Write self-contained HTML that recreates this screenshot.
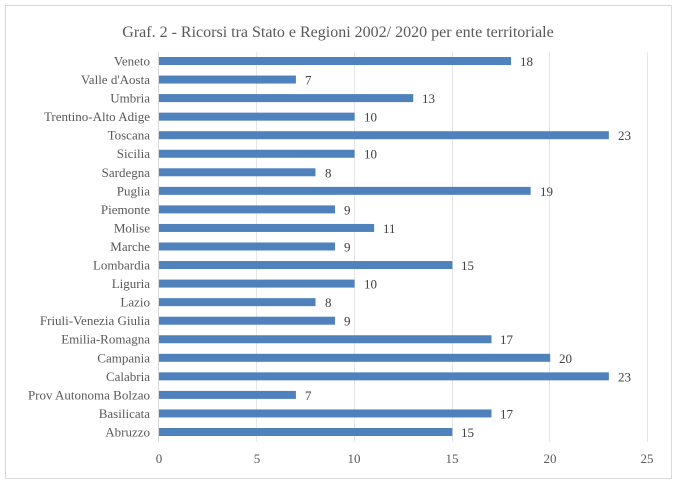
<!DOCTYPE html>
<html><head><meta charset="utf-8"><style>
body{margin:0;background:#fff;}
svg{display:block;font-family:"Liberation Serif",serif;}
</style></head><body>
<svg width="677" height="484" xmlns="http://www.w3.org/2000/svg">
<rect x="0" y="0" width="677" height="484" fill="#fff"/>
<rect x="5.5" y="5.5" width="666" height="473" fill="#fff" stroke="#d9d9d9"/>
<text x="338" y="37" text-anchor="middle" font-size="16" fill="#595959">Graf. 2 - Ricorsi tra Stato e Regioni 2002/ 2020 per ente territoriale</text>
<g stroke="#e6e6e6" stroke-width="1">
<line x1="256.5" y1="52" x2="256.5" y2="442"/>
<line x1="354.5" y1="52" x2="354.5" y2="442"/>
<line x1="452.5" y1="52" x2="452.5" y2="442"/>
<line x1="549.5" y1="52" x2="549.5" y2="442"/>
<line x1="647.5" y1="52" x2="647.5" y2="442"/>
<line x1="158.5" y1="52" x2="158.5" y2="442" stroke="#d9d9d9"/>
</g>
<g font-size="13" fill="#595959" text-anchor="middle">
<text x="159" y="463">0</text><text x="257" y="463">5</text><text x="354" y="463">10</text><text x="452" y="463">15</text><text x="550" y="463">20</text><text x="647" y="463">25</text>
</g>
<g fill="#4f81bd">
<rect x="159" y="57" width="352.08" height="8"/>
<rect x="159" y="75.55" width="136.92" height="8"/>
<rect x="159" y="94.1" width="254.28" height="8"/>
<rect x="159" y="112.65" width="195.6" height="8"/>
<rect x="159" y="131.2" width="449.88" height="8"/>
<rect x="159" y="149.75" width="195.6" height="8"/>
<rect x="159" y="168.3" width="156.48" height="8"/>
<rect x="159" y="186.85" width="371.64" height="8"/>
<rect x="159" y="205.4" width="176.04" height="8"/>
<rect x="159" y="223.95" width="215.16" height="8"/>
<rect x="159" y="242.5" width="176.04" height="8"/>
<rect x="159" y="261.05" width="293.4" height="8"/>
<rect x="159" y="279.6" width="195.6" height="8"/>
<rect x="159" y="298.15" width="156.48" height="8"/>
<rect x="159" y="316.7" width="176.04" height="8"/>
<rect x="159" y="335.25" width="332.52" height="8"/>
<rect x="159" y="353.8" width="391.2" height="8"/>
<rect x="159" y="372.35" width="449.88" height="8"/>
<rect x="159" y="390.9" width="136.92" height="8"/>
<rect x="159" y="409.45" width="332.52" height="8"/>
<rect x="159" y="428" width="293.4" height="8"/>
</g>
<g font-size="13" fill="#595959" text-anchor="end">
<text x="150" y="65.5">Veneto</text>
<text x="150" y="84">Valle d'Aosta</text>
<text x="150" y="102.6">Umbria</text>
<text x="150" y="121.1">Trentino-Alto Adige</text>
<text x="150" y="139.7">Toscana</text>
<text x="150" y="158.2">Sicilia</text>
<text x="150" y="176.8">Sardegna</text>
<text x="150" y="195.3">Puglia</text>
<text x="150" y="213.9">Piemonte</text>
<text x="150" y="232.4">Molise</text>
<text x="150" y="251">Marche</text>
<text x="150" y="269.5">Lombardia</text>
<text x="150" y="288.1">Liguria</text>
<text x="150" y="306.6">Lazio</text>
<text x="150" y="325.2">Friuli-Venezia Giulia</text>
<text x="150" y="343.7">Emilia-Romagna</text>
<text x="150" y="362.3">Campania</text>
<text x="150" y="380.8">Calabria</text>
<text x="150" y="399.4">Prov Autonoma Bolzao</text>
<text x="150" y="417.9">Basilicata</text>
<text x="150" y="436.5">Abruzzo</text>
</g>
<g font-size="13" fill="#404040">
<text x="520" y="66">18</text>
<text x="305" y="84.5">7</text>
<text x="422" y="103.1">13</text>
<text x="364" y="121.6">10</text>
<text x="618" y="140.2">23</text>
<text x="364" y="158.7">10</text>
<text x="325" y="177.3">8</text>
<text x="540" y="195.8">19</text>
<text x="344" y="214.4">9</text>
<text x="383" y="232.9">11</text>
<text x="344" y="251.5">9</text>
<text x="461" y="270">15</text>
<text x="364" y="288.6">10</text>
<text x="325" y="307.1">8</text>
<text x="344" y="325.7">9</text>
<text x="500" y="344.2">17</text>
<text x="559" y="362.8">20</text>
<text x="618" y="381.3">23</text>
<text x="305" y="399.9">7</text>
<text x="500" y="418.4">17</text>
<text x="461" y="437">15</text>
</g>
</svg>
</body></html>
